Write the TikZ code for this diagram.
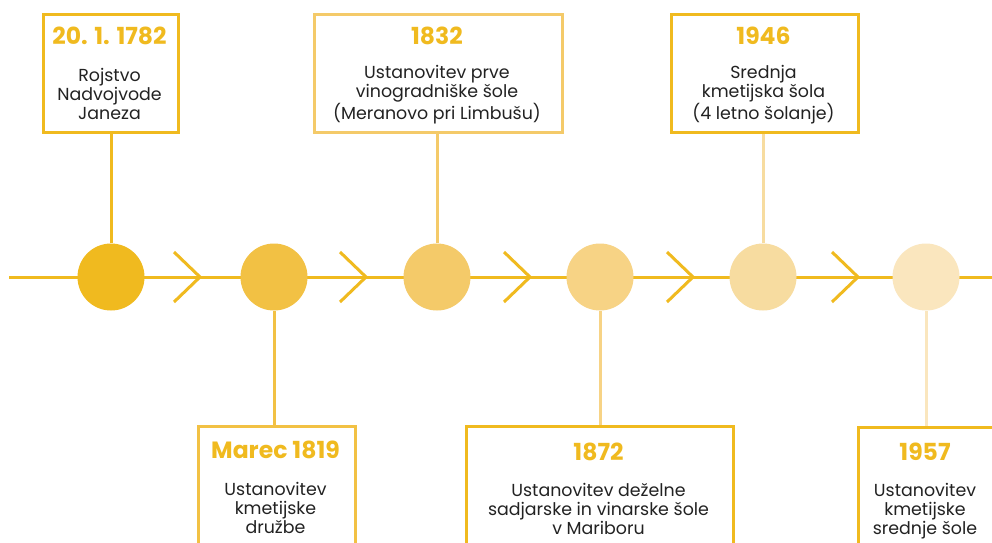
\documentclass[tikz,border=0pt]{standalone}
\usepackage{fontspec}
\setmainfont{Poppins}
\definecolor{gA}{HTML}{F0BA1F}
\definecolor{cA}{HTML}{F0BA1F}
\definecolor{cB}{HTML}{F2C144}
\definecolor{cC}{HTML}{F4CA69}
\definecolor{cD}{HTML}{F7D385}
\definecolor{cE}{HTML}{F7DCA0}
\definecolor{cF}{HTML}{FAE6BE}
\definecolor{txt}{HTML}{222222}
\tikzset{
  mainline/.style={line width=3pt, draw=gA},
  chev/.style={line width=3pt, draw=gA},
  dot/.style={circle, minimum size=67pt, inner sep=0pt, draw=none},
  evbox/.style={draw, line width=3pt, fill=white, anchor=north west, inner sep=0pt},
  conn/.style={line width=3pt},
  yeartext/.style={anchor=base, text=gA, font=\bfseries\fontsize{23.5}{27}\selectfont, inner sep=0pt},
  bodytext/.style={anchor=base, text=txt, align=center, font=\fontsize{17.4}{19}\selectfont, inner sep=0pt},
}
\begin{document}
\begin{tikzpicture}[x=1pt,y=-1pt]
\useasboundingbox (0,0) rectangle (992,542);
\clip (0,0) rectangle (992,542);
\fill[white] (0,0) rectangle (992,542);
% main line
\coordinate (L) at (9,277);
\coordinate (R) at (995,277);
\draw[mainline] (L) -- (R);
% circles
\node[dot, fill=cA] (c1) at (111,277) {};
\node[dot, fill=cB] (c2) at (274,277) {};
\node[dot, fill=cC] (c3) at (437,277) {};
\node[dot, fill=cD] (c4) at (600,277) {};
\node[dot, fill=cE] (c5) at (763,277) {};
\node[dot, fill=cF] (c6) at (926,277) {};
% chevrons
\foreach \t in {200,366,530,693,858}{
  \draw[chev] (\t-26,252) -- (\t,277) -- (\t-26,302);
}
% top boxes
\node[evbox, draw=gA, minimum width=135pt, minimum height=118pt] (b1) at (42,13) {};
\node[evbox, draw=cC, minimum width=248pt, minimum height=118pt] (b2) at (313,13) {};
\node[evbox, draw=gA, minimum width=187pt, minimum height=118pt] (b3) at (670,13) {};
% bottom boxes
\node[evbox, draw=cB, minimum width=157pt, minimum height=140pt] (b4) at (197,425) {};
\node[evbox, draw=gA, minimum width=267pt, minimum height=140pt] (b5) at (465,425) {};
\node[evbox, draw=gA, minimum width=160pt, minimum height=140pt] (b6) at (857,426) {};
% connectors
\draw[conn, draw=gA] (c1.north) -- (c1.north |- b1.south);
\draw[conn, draw=cC] (c3.north) -- (c3.north |- b2.south);
\draw[conn, draw=cE] (c5.north) -- (c5.north |- b3.south);
\draw[conn, draw=cB] (c2.south) -- (c2.south |- b4.north);
\draw[conn, draw=cD] (c4.south) -- (c4.south |- b5.north);
\draw[conn, draw=cF] (c6.south) -- (c6.south |- b6.north);
% texts (body node base = last line baseline)
\node[yeartext] (y1) at (109.5,44) {20. 1. 1782};
\node[bodytext] (t1) at (109.5,119) {Rojstvo\\Nadvojvode\\Janeza};
\node[yeartext] (y2) at (437,44) {1832};
\node[bodytext] (t2) at (437,119) {Ustanovitev prve\\vinogradniške šole\\(Meranovo pri Limbušu)};
\node[yeartext] (y3) at (763.5,44) {1946};
\node[bodytext] (t3) at (763.5,119) {Srednja\\kmetijska šola\\(4 letno šolanje)};
\node[yeartext] (y4) at (275.5,458) {Marec 1819};
\node[bodytext] (t4) at (275.5,533) {Ustanovitev\\kmetijske\\družbe};
\node[yeartext] (y5) at (598.5,460) {1872};
\node[bodytext] (t5) at (598.5,534) {Ustanovitev deželne\\sadjarske in vinarske šole\\v Mariboru};
\node[yeartext] (y6) at (925,460) {1957};
\node[bodytext] (t6) at (925,534) {Ustanovitev\\kmetijske\\srednje šole};
\end{tikzpicture}
\end{document}
